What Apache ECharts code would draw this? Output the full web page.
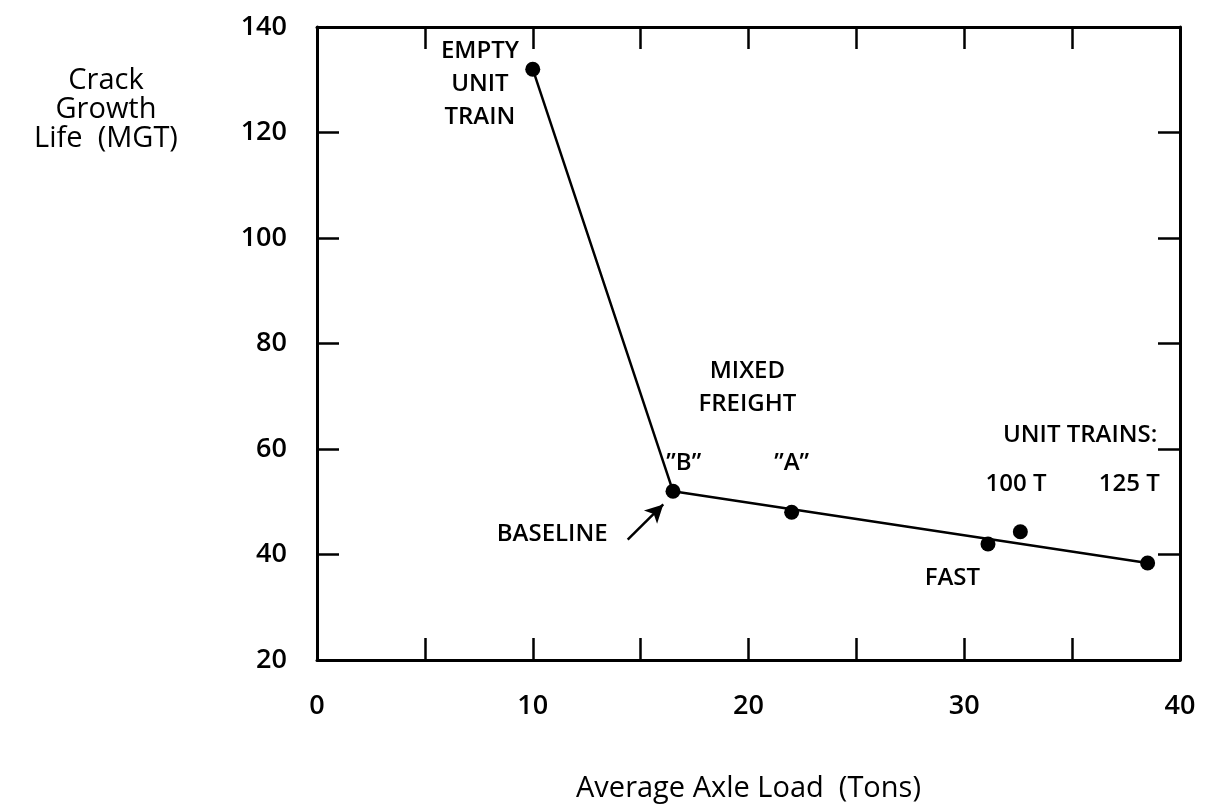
<!DOCTYPE html>
<html>
<head>
<meta charset="utf-8">
<script src="https://cdn.jsdelivr.net/npm/echarts@6/dist/echarts.min.js"></script>
<style>
  html, body { margin: 0; padding: 0; background: #fff; }
  #chart { width: 1207px; height: 808px; }
</style>
</head>
<body>
<div id="chart"></div>
<script>
// Crack growth life vs. average axle load, by traffic type
const pointLabels = ['EMPTY UNIT TRAIN', 'B (BASELINE)', 'A', 'FAST', '100 T', '125 T'];
const axleLoad    = [10, 16.5, 22, 31.1, 32.6, 38.5];
const crackLife   = [132, 52, 48, 42, 44.3, 38.4];

// Trend line: empty unit train -> baseline -> 125 T unit train
const trendLoad = [10, 16.5, 38.5];
const trendLife = [132, 52, 38.4];

// Text annotations placed in data coordinates
const noteText  = ['EMPTY\nUNIT\nTRAIN', 'MIXED\nFREIGHT', '\u201DB\u201D', '\u201DA\u201D', '100 T', '125 T', 'FAST', 'BASELINE'];
const noteLoad  = [7.55, 19.95, 17.0, 22.0, 32.4, 37.65, 29.45, 10.9];
const noteLife  = [129.2, 71.7, 57.3, 57.3, 53.4, 53.4, 35.5, 43.8];
const unitTrainsNote = { text: 'UNIT TRAINS:', load: 38.95, life: 62.7 };

// Arrow pointing at the baseline
const arrowFrom = [14.4, 42.8];
const arrowTo   = [16.05, 49.5];

const xTicks = { min: 0, max: 40, step: 5, labelStep: 10 };
const yTicks = { min: 20, max: 140, step: 20 };

const FONT = '"Open Sans", "Noto Sans", sans-serif';
const INK = '#000';

const chart = echarts.init(document.getElementById('chart'), null, { renderer: 'canvas' });

const frameAxis = {
  axisLine: { show: true, onZero: false, lineStyle: { color: INK, width: 3 } },
  axisTick: { show: true, inside: true, length: 22, lineStyle: { color: INK, width: 2.5 } },
  splitLine: { show: false }
};

const notes = noteText.map((t, i) => ({ value: [noteLoad[i], noteLife[i]], text: t }));

const noteLabel = {
  show: true, position: 'inside', formatter: p => p.data.text,
  fontFamily: FONT, fontSize: 24, fontWeight: 600, color: INK, opacity: 1
};

chart.setOption({
  backgroundColor: '#fff',
  animation: false,
  grid: { left: 317, right: 27, top: 27, bottom: 144, containLabel: false },
  xAxis: [
    Object.assign({
      type: 'value', position: 'bottom',
      min: xTicks.min, max: xTicks.max, interval: xTicks.step,
      name: 'Average Axle Load  (Tons)', nameLocation: 'middle', nameGap: 114,
      nameTextStyle: { fontFamily: FONT, fontSize: 29, color: INK },
      axisLabel: {
        margin: 33, fontFamily: FONT, fontSize: 27, fontWeight: 600, color: INK,
        formatter: v => (v % xTicks.labelStep === 0 ? String(v) : '')
      }
    }, frameAxis),
    Object.assign({
      type: 'value', position: 'top',
      min: xTicks.min, max: xTicks.max, interval: xTicks.step,
      axisLabel: { show: false }
    }, frameAxis)
  ],
  yAxis: [
    Object.assign({
      type: 'value', position: 'left',
      min: yTicks.min, max: yTicks.max, interval: yTicks.step,
      axisLabel: { margin: 30, fontFamily: FONT, fontSize: 27, fontWeight: 600, color: INK }
    }, frameAxis),
    Object.assign({
      type: 'value', position: 'right',
      min: yTicks.min, max: yTicks.max, interval: yTicks.step,
      axisLabel: { show: false }
    }, frameAxis)
  ],
  graphic: [{
    type: 'text',
    style: {
      text: 'Crack\nGrowth\nLife  (MGT)', x: 106, y: 66,
      align: 'center', verticalAlign: 'top',
      fontFamily: FONT, fontSize: 29, fontWeight: 500, lineHeight: 29, fill: INK
    }
  }],
  series: [
    {
      type: 'line',
      data: trendLoad.map((x, i) => [x, trendLife[i]]),
      showSymbol: false,
      lineStyle: { color: INK, width: 2.5 },
      z: 2,
      markLine: {
        silent: true,
        symbol: ['none', 'arrow'],
        symbolSize: [14, 18],
        label: { show: false },
        lineStyle: { color: INK, width: 2.5, type: 'solid' },
        data: [[{ coord: arrowFrom }, { coord: arrowTo }]]
      }
    },
    {
      type: 'scatter',
      data: axleLoad.map((x, i) => ({ value: [x, crackLife[i]], name: pointLabels[i] })),
      symbol: 'circle',
      symbolSize: 15,
      itemStyle: { color: INK, opacity: 1 },
      z: 3
    },
    {
      type: 'scatter',
      data: notes,
      symbolSize: 0,
      silent: true,
      itemStyle: { opacity: 1 },
      label: Object.assign({ lineHeight: 33, align: 'center' }, noteLabel),
      z: 4
    },
    {
      type: 'scatter',
      data: [{ value: [unitTrainsNote.load, unitTrainsNote.life], text: unitTrainsNote.text }],
      symbolSize: 0,
      silent: true,
      itemStyle: { opacity: 1 },
      label: Object.assign({ align: 'right' }, noteLabel),
      z: 4
    }
  ]
});
</script>
</body>
</html>
